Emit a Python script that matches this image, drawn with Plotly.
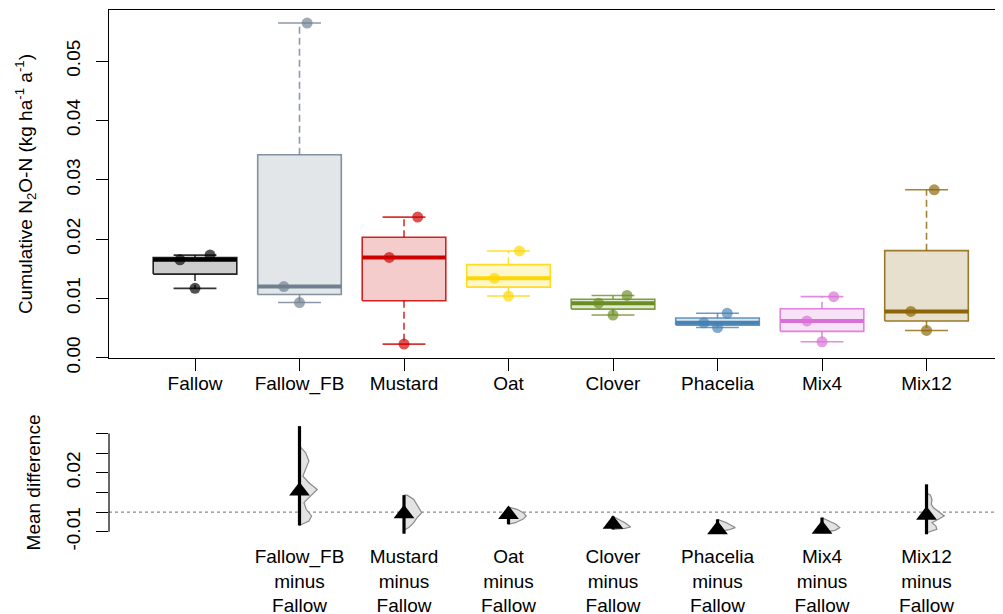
import math
import plotly.graph_objects as go

# ---------------- data ----------------
groups = ["Fallow", "Fallow_FB", "Mustard", "Oat", "Clover", "Phacelia", "Mix4", "Mix12"]

fallow = [0.0117, 0.0165, 0.0173]
fallow_fb = [0.0093, 0.0120, 0.0564]
mustard = [0.0023, 0.0169, 0.0237]
oat = [0.0104, 0.0134, 0.0180]
clover = [0.0072, 0.0092, 0.0105]
phacelia = [0.0051, 0.0059, 0.0075]
mix4 = [0.0027, 0.0062, 0.0103]
mix12 = [0.0046, 0.0078, 0.0283]

# horizontal jitter of the replicate points (category units)
jit_fallow = [0.0, -0.144, 0.144]
jit_fallow_fb = [0.0, -0.150, 0.073]
jit_mustard = [0.0, -0.141, 0.131]
jit_oat = [0.0, -0.134, 0.105]
jit_clover = [0.0, -0.138, 0.134]
jit_phacelia = [0.0, -0.131, 0.093]
jit_mix4 = [0.0, -0.144, 0.112]
jit_mix12 = [0.0, -0.150, 0.074]

colors = ["#000000", "#708090", "#CD0000", "#FFD700", "#6B8E23", "#4682B4", "#DA70D6", "#8B6508"]

# contrasts (bottom panel)
contrast_labels = ["Fallow_FB<br>minus<br>Fallow", "Mustard<br>minus<br>Fallow", "Oat<br>minus<br>Fallow",
                   "Clover<br>minus<br>Fallow", "Phacelia<br>minus<br>Fallow", "Mix4<br>minus<br>Fallow",
                   "Mix12<br>minus<br>Fallow"]
ci_low = [-0.0068, -0.0110, -0.0062, -0.0088, -0.0100, -0.0105, -0.0113]
ci_high = [0.0437, 0.0086, 0.0025, -0.0023, -0.0037, -0.0028, 0.0141]

# bootstrap density outlines: y values and relative density
dens_fb_y = [0.0335, 0.0302, 0.0259, 0.0225, 0.0183, 0.0149, 0.0115, 0.0081, 0.0048, 0.0014, -0.0020, -0.0046, -0.0068]
dens_fb_d = [0.0, 0.34, 0.53, 0.38, 0.19, 0.53, 1.0, 0.62, 0.25, 0.38, 0.68, 0.53, 0.0]
dens_mustard_y = [0.0086, 0.0086, 0.0064, 0.0039, -0.0003, -0.0029, -0.0054, -0.0079, -0.0091]
dens_mustard_d = [0.0, 0.18, 0.55, 0.73, 1.0, 0.73, 0.55, 0.27, 0.0]
dens_oat_y = [0.0025, 0.0014, -0.0003, -0.0020, -0.0037, -0.0054, -0.0062]
dens_oat_d = [0.0, 0.48, 0.83, 1.0, 0.8, 0.38, 0.0]
dens_clover_y = [-0.0023, -0.0037, -0.0054, -0.0076, -0.0083, -0.0088]
dens_clover_d = [0.0, 0.33, 0.67, 1.0, 0.67, 0.0]
dens_phacelia_y = [-0.0037, -0.0054, -0.0079, -0.0091, -0.0100]
dens_phacelia_d = [0.0, 0.5, 1.0, 0.6, 0.0]
dens_mix4_y = [-0.0029, -0.0046, -0.0062, -0.0079, -0.0093, -0.0105]
dens_mix4_d = [0.0, 0.45, 0.78, 1.0, 0.73, 0.0]
dens_mix12_y = [0.0098, 0.0086, 0.0064, 0.0039, 0.0022, -0.0003, -0.0020, -0.0037, -0.0054, -0.0071, -0.0088, -0.0105]
dens_mix12_d = [0.0, 0.22, 0.31, 0.27, 0.40, 0.76, 1.0, 0.67, 0.31, 0.53, 0.58, 0.0]

y_ticks_top = [0.00, 0.01, 0.02, 0.03, 0.04, 0.05]
y_ticks_bottom_labelled = [-0.01, 0.02]
y_ticktext_bottom = ["-0.01", "0.02"]

# ---------------- helpers ----------------
def rgba(h, a):
    h = h.lstrip("#")
    return "rgba(%d,%d,%d,%s)" % (int(h[0:2], 16), int(h[2:4], 16), int(h[4:6], 16), a)


def fivenum(v):
    v = sorted(v)
    n = len(v)
    n4 = math.floor((n + 3) / 2) / 2
    d = [1, n4, (n + 1) / 2, n + 1 - n4, n]
    return [0.5 * (v[math.floor(di) - 1] + v[math.ceil(di) - 1]) for di in d]


FONT = "Liberation Sans, Arial, sans-serif"
fig = go.Figure()

all_vals = [fallow, fallow_fb, mustard, oat, clover, phacelia, mix4, mix12]
all_jit = [jit_fallow, jit_fallow_fb, jit_mustard, jit_oat, jit_clover, jit_phacelia, jit_mix4, jit_mix12]
BW = 0.40
CW = 0.205

for i, (vals, jit, col) in enumerate(zip(all_vals, all_jit, colors)):
    x = i + 1
    mn, q1, md, q3, mx = fivenum(vals)
    fig.add_trace(go.Scatter(x=[x - BW, x + BW, x + BW, x - BW, x - BW], y=[q1, q1, q3, q3, q1],
                             mode="lines", fill="toself", fillcolor=rgba(col, 0.2),
                             line=dict(color=rgba(col, 0.85), width=1.6), hoverinfo="skip"))
    fig.add_trace(go.Scatter(x=[x, x, None, x, x], y=[q3, mx, None, q1, mn], mode="lines",
                             line=dict(color=rgba(col, 0.8), width=1.6, dash="7px,4px"), hoverinfo="skip"))
    fig.add_trace(go.Scatter(x=[x - CW, x + CW, None, x - CW, x + CW], y=[mx, mx, None, mn, mn], mode="lines",
                             line=dict(color=rgba(col, 0.8), width=1.6), hoverinfo="skip"))
    fig.add_trace(go.Scatter(x=[x - BW, x + BW], y=[md, md], mode="lines",
                             line=dict(color=col, width=4), hoverinfo="skip"))
    fig.add_trace(go.Scatter(x=[x + j for j in jit], y=vals, mode="markers",
                             marker=dict(color=rgba(col, 0.68), size=11, line=dict(width=0)), hoverinfo="skip"))

# bottom panel
DW = 0.17
dens_y = [dens_fb_y, dens_mustard_y, dens_oat_y, dens_clover_y, dens_phacelia_y, dens_mix4_y, dens_mix12_y]
dens_d = [dens_fb_d, dens_mustard_d, dens_oat_d, dens_clover_d, dens_phacelia_d, dens_mix4_d, dens_mix12_d]
ref_mean = sum(fallow) / len(fallow)
for k in range(7):
    x = k + 2
    ys = dens_y[k]
    xs = [x + DW * d for d in dens_d[k]]
    fig.add_trace(go.Scatter(x=xs + [x, x], y=ys + [ys[-1], ys[0]], mode="lines", fill="toself",
                             fillcolor="#e3e3e3", line=dict(color="#8a8a8a", width=1.2),
                             xaxis="x2", yaxis="y2", hoverinfo="skip"))
    fig.add_trace(go.Scatter(x=[x, x], y=[ci_low[k], ci_high[k]], mode="lines",
                             line=dict(color="black", width=3.2), xaxis="x2", yaxis="y2", hoverinfo="skip"))
    vals = all_vals[k + 1]
    diff = sum(vals) / len(vals) - ref_mean
    fig.add_trace(go.Scatter(x=[x], y=[diff], mode="markers",
                             marker=dict(symbol="triangle-up", color="black", size=18, line=dict(width=0)),
                             xaxis="x2", yaxis="y2", hoverinfo="skip"))

XR = [0.177, 8.732]
# the page body adds an 8px offset; the figure is sized so that it ends at the window edge
W, H = 995, 606
MT, MB = 2, 0
PH = H - MT - MB


def frac(px_from_top):
    return (H - px_from_top - MB) / PH


tick_common = dict(ticks="outside", ticklen=12, tickwidth=1.2, tickcolor="black",
                   showgrid=False, zeroline=False, automargin=False)

fig.update_layout(
    width=W, height=H,
    margin=dict(l=101, r=0, t=MT, b=MB),
    paper_bgcolor="white", plot_bgcolor="white",
    font=dict(family=FONT, size=19, color="black"),
    showlegend=False,
    xaxis=dict(domain=[0, 1], range=XR, tickvals=list(range(1, 9)), ticktext=groups,
               showline=True, mirror=True, linecolor="black", linewidth=1.2,
               anchor="y", ticklabelstandoff=-4, **tick_common),
    yaxis=dict(domain=[frac(350), frac(2)], range=[-0.00004, 0.0586], tickvals=y_ticks_top,
               tickformat=".2f", tickangle=-90, showline=True, linecolor="black", linewidth=1.2,
               anchor="x", ticklabelstandoff=8, **tick_common,
               title=dict(text="Cumulative N<sub>2</sub>O-N (kg ha<sup>-1</sup> a<sup>-1</sup>)",
                          font=dict(size=19), standoff=25)),
    xaxis2=dict(domain=[0, 1], range=XR, tickvals=list(range(2, 9)), ticktext=contrast_labels,
                ticks="", showline=False, showgrid=False, zeroline=False, anchor="y2",
                automargin=False, ticklabelstandoff=-2),
    yaxis2=dict(domain=[frac(537), frac(412)], range=[-0.01675, 0.0468], tickvals=y_ticks_bottom_labelled,
                ticktext=y_ticktext_bottom, tickangle=-90, showline=False, anchor="x2", ticklabelstandoff=8,
                minor=dict(dtick=0.01, tick0=0, ticks="outside", ticklen=12, tickwidth=1.2,
                           tickcolor="black", showgrid=False),
                **tick_common,
                title=dict(text="Mean difference", font=dict(size=19), standoff=17)),
    shapes=[
        dict(type="line", xref="paper", yref="y2", x0=0, x1=0, y0=-0.01, y1=0.04,
             line=dict(color="black", width=1.2)),
        dict(type="line", xref="paper", yref="y2", x0=0, x1=1, y0=0, y1=0, layer="below",
             line=dict(color="#8a8a8a", width=1.3, dash="dot")),
    ],
)

fig.write_html("out.html")
